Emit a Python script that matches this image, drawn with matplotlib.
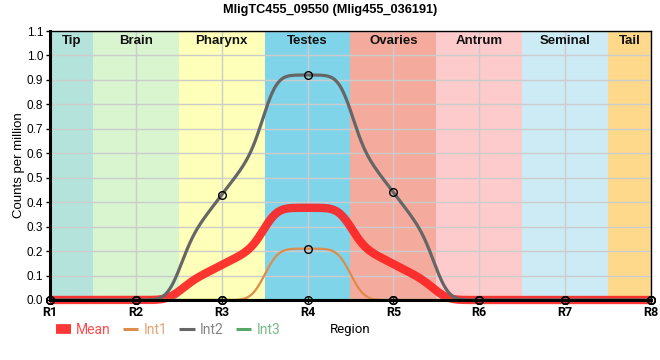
import numpy as np
import matplotlib
matplotlib.use("Agg")
import matplotlib.pyplot as plt
from matplotlib.lines import Line2D

regions = ["R1", "R2", "R3", "R4", "R5", "R6", "R7", "R8"]
mean_vals = [0, 0, 0.143, 0.377, 0.147, 0, 0, 0]
int1_vals = [0, 0, 0, 0.21, 0, 0, 0, 0]
int2_vals = [0, 0, 0.43, 0.92, 0.44, 0, 0, 0]
int3_vals = [0, 0, 0, 0, 0, 0, 0, 0]

band_names = ["Tip", "Brain", "Pharynx", "Testes", "Ovaries", "Antrum", "Seminal", "Tail"]
band_edges = [0, 0.5, 1.5, 2.5, 3.5, 4.5, 5.5, 6.5, 7]
band_colors = ["#b4e3dc", "#d8f5d0", "#feffb8", "#7fd4ea", "#f4ab9d", "#fdcbcb", "#cdebf5", "#fed98b"]

series = [("Mean", mean_vals, "#ff2020", 6.0, 0.9),
          ("Int1", int1_vals, "#dd8c4c", 1.6, 1.0),
          ("Int2", int2_vals, "#666666", 2.3, 1.0),
          ("Int3", int3_vals, "#55a868", 1.6, 1.0)]


def tangents(y):
    y = np.asarray(y, float)
    d = np.diff(y)
    m = np.zeros_like(y)
    for k in range(1, len(y) - 1):
        if d[k - 1] * d[k] > 0:
            m[k] = 2.0 / (1.0 / d[k - 1] + 1.0 / d[k])
    return m


def smooth_curve(yp, sigma=0.125, step=0.005):
    """Band-wise linear pieces through each point, blended across band edges by a Gaussian kernel."""
    y = np.asarray(yp, float)
    m = tangents(y)
    xf = np.arange(-1.5, len(y) + 0.5 + step / 2, step)
    k = np.clip(np.round(xf).astype(int), 0, len(y) - 1)
    f = y[k] + m[k] * (xf - k)
    kx = np.arange(-4 * sigma, 4 * sigma + step / 2, step)
    ker = np.exp(-0.5 * (kx / sigma) ** 2)
    ker /= ker.sum()
    g = np.convolve(f, ker, mode="same")
    sel = (xf >= -1e-9) & (xf <= len(y) - 1 + 1e-9)
    return xf[sel], g[sel]


fig = plt.figure(figsize=(6.6, 3.6), dpi=100)
ax = fig.add_axes([50 / 660, 1 - 300 / 360, 601 / 660, 269 / 360])

x = np.arange(len(regions))
for i, name in enumerate(band_names):
    ax.axvspan(band_edges[i], band_edges[i + 1], color=band_colors[i], zorder=0, lw=0)
    ax.text((band_edges[i] + band_edges[i + 1]) / 2, 1.085, name, ha="center", va="top",
            fontsize=9.5, fontweight="bold", family="Liberation Sans", color="#111111", zorder=1)

ax.set_xlim(0, 7)
ax.set_ylim(0, 1.1)
yt = np.arange(0, 1.11, 0.1)
ax.set_yticks(yt)
ax.set_yticklabels([f"{v:.1f}" for v in yt], family="Liberation Sans", fontsize=8.5)
ax.set_xticks(x)
ax.set_xticklabels(regions, family="Roboto", fontweight="bold", fontsize=9)
ax.grid(True, color="#cccccc", lw=1, zorder=0.5)
ax.set_axisbelow(True)
ax.tick_params(axis="y", length=3, width=1, pad=2)
ax.tick_params(axis="x", length=4, width=1, direction="inout", pad=2)

for name, vals, col, lw, al in series:
    xs, ys = smooth_curve(vals)
    ax.plot(xs, ys, color=col, lw=lw, alpha=al, zorder=3 if name != "Mean" else 2.5,
            clip_on=False, solid_capstyle="butt")

for name, vals, col, lw, al in series[1:]:
    ax.plot(x, vals, linestyle="none", marker="o", ms=5.5, mfc="none", mec="black",
            mew=1, zorder=5, clip_on=False)

for s in ["top", "right"]:
    ax.spines[s].set_linewidth(1)
for s in ["left", "bottom"]:
    ax.spines[s].set_linewidth(2.2)
for s in ax.spines.values():
    s.set_zorder(4)

ax.set_ylabel("Counts per million", family="Liberation Sans", fontsize=9.5, labelpad=1)
fig.text(350 / 660, 1 - 330 / 360, "Region", ha="center", va="center", family="Roboto", fontsize=9.5)

fig.suptitle("MligTC455_09550 (Mlig455_036191)", x=330 / 660, y=1 - 10 / 360, va="center",
             fontsize=9.2, fontweight="bold", family="Liberation Sans")

handles = [Line2D([0], [0], color=s[2], lw=(7 if s[0] == "Mean" else 2.2), alpha=s[4],
                  solid_capstyle="butt") for s in series]
leg = fig.legend(handles, [s[0] for s in series], loc="center left",
                 bbox_to_anchor=(43 / 660, 1 - 330 / 360), ncol=4, frameon=False,
                 handlelength=1.1, handletextpad=0.4, columnspacing=0.85,
                 prop={"family": "Roboto", "size": 10})
for t, s in zip(leg.get_texts(), series):
    t.set_color(s[2])
    t.set_alpha(0.8)

fig.savefig("out.png", dpi=100)
